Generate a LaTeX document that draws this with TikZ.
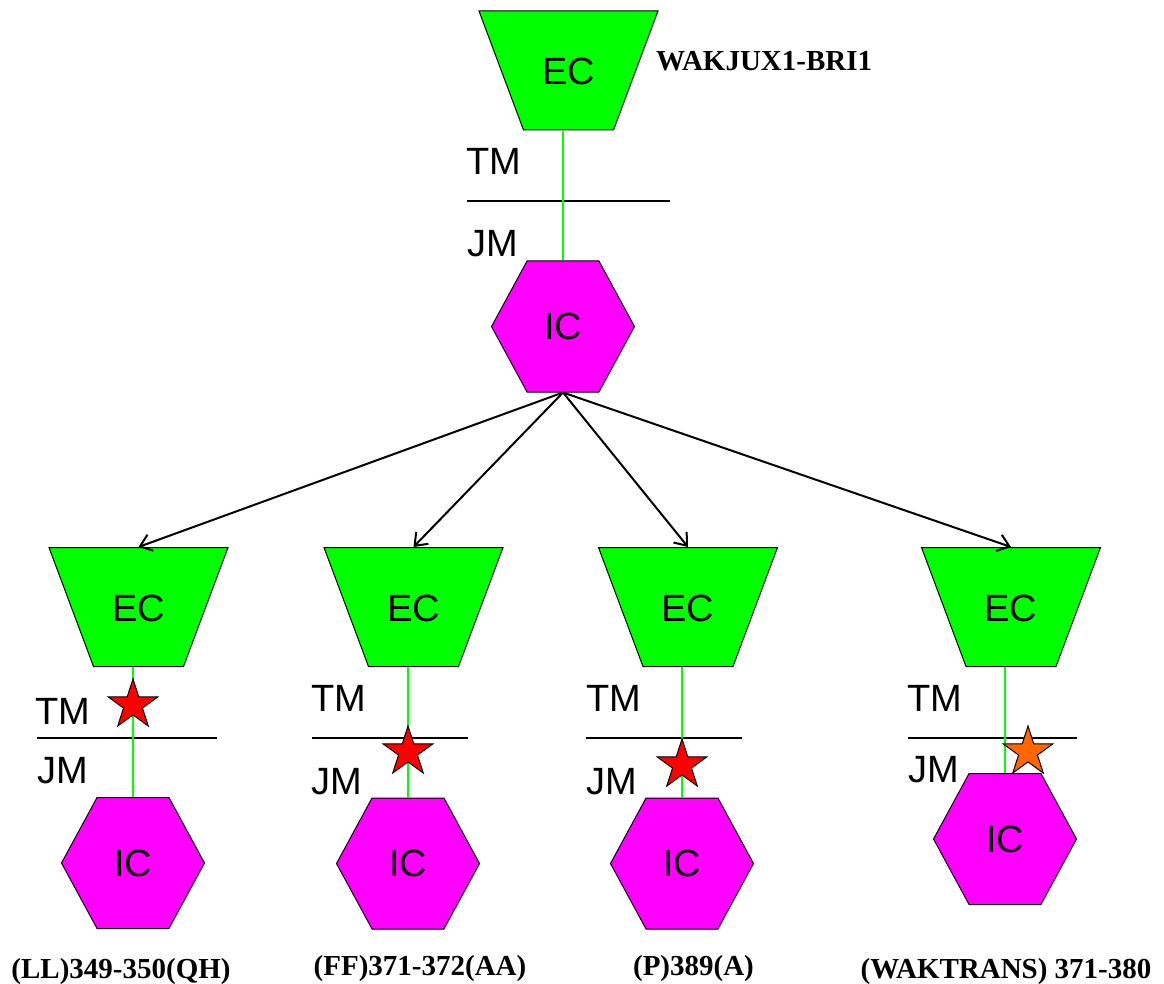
\documentclass[tikz,border=0pt]{standalone}
\usepackage{fontspec}
\setmainfont{Liberation Sans}
\newfontfamily\labelfont{Liberation Serif}
\usetikzlibrary{shapes.geometric,shapes.symbols,arrows.meta}
\definecolor{ecgreen}{RGB}{0,255,0}
\definecolor{icpink}{RGB}{255,0,255}
\definecolor{starred}{RGB}{255,0,0}
\definecolor{starorange}{RGB}{255,102,0}
\begin{document}
\begin{tikzpicture}[x=1pt, y=-1pt, font=\fontsize{38}{40}\selectfont,
ec node/.style={trapezium,shape border rotate=180,trapezium left angle=69.5,trapezium right angle=69.5,trapezium stretches body=true,minimum width=179pt,text height=28pt,text depth=0pt,inner xsep=0pt,inner ysep=45.5pt,fill=ecgreen,draw,line width=1pt},
ic node/.style={signal,signal to=east and west,signal pointer angle=123,minimum width=143pt,minimum height=131pt,inner sep=0pt,fill=icpink,draw,line width=1pt},
star node/.style={star,star points=5,star point ratio=2.618,minimum size=52pt,inner sep=0pt,draw,line width=1pt,fill=#1},
mark text/.style={anchor=base west,inner sep=0pt},
site text/.style={font=\labelfont\bfseries\fontsize{29}{31}\selectfont,inner sep=0pt},
green line/.style={ecgreen,line width=1.5pt},
sep line/.style={line width=1.2pt}]
\useasboundingbox (0,0) rectangle (1164,984);
\node[ec node] (ec0) at (568.5,70.5) {EC};
\node[ic node] (ic0) at (563,326.5) {IC};
\node[ec node] (ec1) at (138.5,607) {EC};
\node[ic node] (ic1) at (133,863) {IC};
\node[ec node] (ec2) at (413.5,607) {EC};
\node[ic node] (ic2) at (408,863.5) {IC};
\node[ec node] (ec3) at (688,607) {EC};
\node[ic node] (ic3) at (682,863.5) {IC};
\node[ec node] (ec4) at (1011,607) {EC};
\node[ic node] (ic4) at (1005,839) {IC};
\node[site text,anchor=base west] (top) at (656,71) {WAKJUX1-BRI1};
\node[mark text] (tm0) at (466,175) {TM};
\node[mark text] (jm0) at (467,257) {JM};
\node[mark text] (tm1) at (35,724) {TM};
\node[mark text] (jm1) at (37,783) {JM};
\node[mark text] (tm2) at (311,711) {TM};
\node[mark text] (jm2) at (311,794) {JM};
\node[mark text] (tm3) at (586,711) {TM};
\node[mark text] (jm3) at (586,794) {JM};
\node[mark text] (tm4) at (907,711) {TM};
\node[mark text] (jm4) at (908,782) {JM};
\draw[sep line] (467,201) -- (670,201);
\draw[sep line] (37,738) -- (217,738);
\draw[sep line] (312,738) -- (468,738);
\draw[sep line] (586,738) -- (742,738);
\draw[sep line] (908,738) -- (1077,738);
\draw[green line] (ic0.north |- ec0.south) -- (ic0.north);
\draw[green line] (ic1.north |- ec1.south) -- (ic1.north);
\draw[green line] (ic2.north |- ec2.south) -- (ic2.north);
\draw[green line] (ic3.north |- ec3.south) -- (ic3.north);
\draw[green line] (ic4.north |- ec4.south) -- (ic4.north);
\draw[-{Straight Barb[length=11pt,width=17pt]}, line width=2pt] (ic0.south) -- (ec1.north);
\draw[-{Straight Barb[length=11pt,width=17pt]}, line width=2pt] (ic0.south) -- (ec2.north);
\draw[-{Straight Barb[length=11pt,width=17pt]}, line width=2pt] (ic0.south) -- (ec3.north);
\draw[-{Straight Barb[length=11pt,width=17pt]}, line width=2pt] (ic0.south) -- (ec4.north);
\node[star node=starred] (s1) at (133,705) {};
\node[star node=starred] (s2) at (408,752) {};
\node[star node=starred] (s3) at (682,765) {};
\node[star node=starorange] (s4) at (1028,752) {};
\node[site text,anchor=base] (site1) at (121,978) {(LL)349-350(QH)};
\node[site text,anchor=base] (site2) at (420,975) {(FF)371-372(AA)};
\node[site text,anchor=base] (site3) at (693.5,975) {(P)389(A)};
\node[site text,anchor=base] (site4) at (1006,978) {(WAKTRANS) 371-380};
\end{tikzpicture}
\end{document}
